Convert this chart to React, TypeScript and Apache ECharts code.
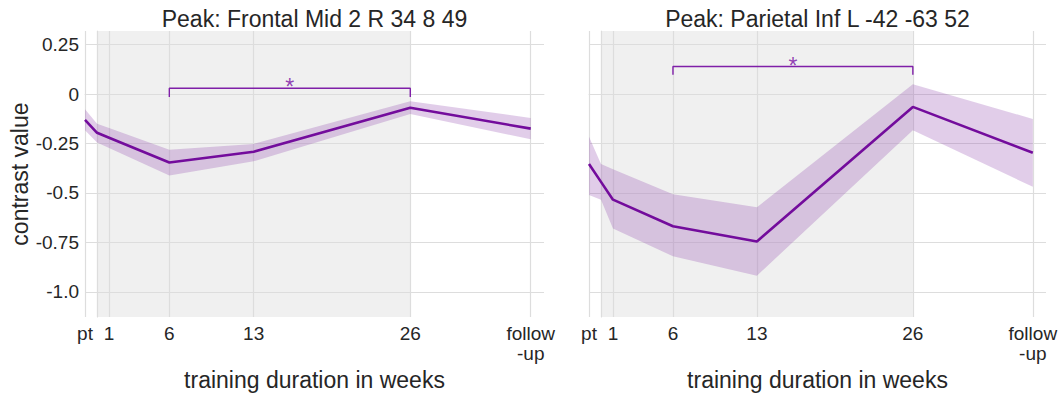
import React, { useEffect, useRef } from "react";
import * as echarts from "echarts";

const weeks = [-1, 0, 1, 6, 13, 26, 36];

const frontalMean = [-0.131, -0.196, -0.221, -0.346, -0.292, -0.069, -0.175];
const frontalUpper = [-0.077, -0.15, -0.172, -0.281, -0.252, -0.036, -0.121];
const frontalLower = [-0.183, -0.245, -0.273, -0.412, -0.34, -0.101, -0.229];

const parietalMean = [-0.354, -0.444, -0.534, -0.668, -0.745, -0.065, -0.297];
const parietalUpper = [-0.216, -0.354, -0.38, -0.507, -0.572, 0.049, -0.126];
const parietalLower = [-0.51, -0.534, -0.68, -0.82, -0.918, -0.183, -0.469];

const panelTitles = ["Peak: Frontal Mid 2 R 34 8 49", "Peak: Parietal Inf L -42 -63 52"];

const xTicks = [-1, 0, 1, 6, 13, 26, 36];
const xTickLabels = ["pt", "", "1", "6", "13", "26", "follow\n-up"];
const yTicks = [-1, -0.75, -0.5, -0.25, 0, 0.25];
const yTickLabels = ["-1.0", "-0.75", "-0.5", "-0.25", "0", "0.25"];

const trainingSpan = [0, 26];
const bracketFrom = [6, 6];
const bracketTo = [26, 26];
const bracketLevel = [0.029, 0.139];
const bracketDrop = [-0.015, 0.098];
const bracketMark = ["*", "*"];

const xMin = -1;
const xMax = 37.1;
const yMin = -1.1275;
const yMax = 0.3186;

const FONT = "'Liberation Sans', Arial, Helvetica, sans-serif";
const TEXT = "#262626";
const LINE = "#730c9c";
const BAND = "rgba(140, 60, 170, 0.26)";
const GRIDC = "#dddddd";

const grids = [
  { left: 85, top: 31, width: 459, height: 295 },
  { left: 589, top: 31, width: 457, height: 295 },
];

export default function App() {
  const ref = useRef<HTMLDivElement>(null);

  useEffect(() => {
    if (!ref.current) return;
    const chart = echarts.init(ref.current, undefined, { renderer: "svg" });
    const panels = [
      { mean: frontalMean, upper: frontalUpper, lower: frontalLower },
      { mean: parietalMean, upper: parietalUpper, lower: parietalLower },
    ];

    const xAxes: any[] = [];
    const yAxes: any[] = [];
    const series: any[] = [];

    panels.forEach((p, i) => {
      xAxes.push({
        type: "value",
        gridIndex: i,
        min: xMin,
        max: xMax,
        axisLine: { show: true, lineStyle: { color: "#e4e4e4", width: 1.2 } },
        axisTick: { show: false },
        splitLine: { show: false },
        axisLabel: {
          customValues: xTicks,
          formatter: (v: number) => {
            const k = xTicks.indexOf(v);
            return k >= 0 ? xTickLabels[k] : "";
          },
          fontSize: 19,
          fontFamily: FONT,
          color: TEXT,
          margin: 6,
          lineHeight: 20,
          hideOverlap: false,
        },
        name: "training duration in weeks",
        nameLocation: "middle",
        nameGap: 50,
        nameTextStyle: { fontSize: 23, fontFamily: FONT, color: TEXT },
      });
      yAxes.push({
        type: "value",
        gridIndex: i,
        min: yMin,
        max: yMax,
        axisLine: { show: true, lineStyle: { color: "#e4e4e4", width: 1.2 } },
        axisTick: { show: false },
        splitLine: { show: false },
        axisLabel: {
          show: i === 0,
          customValues: yTicks,
          formatter: (v: number) => {
            const k = yTicks.indexOf(v);
            return k >= 0 ? yTickLabels[k] : "";
          },
          fontSize: 19,
          fontFamily: FONT,
          color: TEXT,
          margin: 6,
        },
        name: i === 0 ? "contrast value" : "",
        nameLocation: "middle",
        nameGap: 54,
        nameTextStyle: { fontSize: 23, fontFamily: FONT, color: TEXT },
      });

      // training-period shading
      series.push({
        type: "line",
        xAxisIndex: i,
        yAxisIndex: i,
        data: [],
        silent: true,
        z: 1,
        markArea: {
          silent: true,
          z: 1,
          itemStyle: { color: "#f0f0f0" },
          data: [[{ xAxis: trainingSpan[0] }, { xAxis: trainingSpan[1] }]],
        },
      });
      // grid lines
      series.push({
        type: "line",
        xAxisIndex: i,
        yAxisIndex: i,
        data: [],
        silent: true,
        z: 2,
        markLine: {
          silent: true,
          z: 2,
          symbol: ["none", "none"],
          label: { show: false },
          lineStyle: { color: GRIDC, type: "solid", width: 1.2 },
          data: [
            ...xTicks.map((v) => ({ xAxis: v })),
            ...yTicks.map((v) => ({ yAxis: v })),
          ],
        },
      });
      // confidence band as one polygon
      const bandData = weeks.map((w, k) => [w, p.lower[k], p.upper[k]]);
      series.push({
        type: "custom",
        xAxisIndex: i,
        yAxisIndex: i,
        data: bandData,
        encode: { x: 0, y: [1, 2] },
        silent: true,
        z: 3,
        renderItem: (params: any, api: any) => {
          if (params.dataIndex !== 0) return null;
          const top = bandData.map((d) => api.coord([d[0], d[2]]));
          const bottom = bandData
            .slice()
            .reverse()
            .map((d) => api.coord([d[0], d[1]]));
          return {
            type: "polygon",
            shape: { points: top.concat(bottom) },
            style: { fill: BAND },
            silent: true,
          };
        },
      });
      // mean line
      series.push({
        type: "line",
        xAxisIndex: i,
        yAxisIndex: i,
        data: weeks.map((w, k) => [w, p.mean[k]]),
        symbol: "none",
        lineStyle: { color: LINE, width: 2.6 },
        silent: true,
        z: 4,
      });
      // significance bracket
      series.push({
        type: "line",
        xAxisIndex: i,
        yAxisIndex: i,
        data: [
          [bracketFrom[i], bracketDrop[i]],
          [bracketFrom[i], bracketLevel[i]],
          [bracketTo[i], bracketLevel[i]],
          [bracketTo[i], bracketDrop[i]],
        ],
        symbol: "none",
        lineStyle: { color: "#7f1fa8", width: 1.4 },
        silent: true,
        z: 5,
      });
      series.push({
        type: "scatter",
        xAxisIndex: i,
        yAxisIndex: i,
        data: [[(bracketFrom[i] + bracketTo[i]) / 2, bracketLevel[i]]],
        symbolSize: 0,
        silent: true,
        z: 5,
        label: {
          show: true,
          position: "inside",
          offset: [0, -1],
          formatter: () => bracketMark[i],
          fontSize: 23,
          fontFamily: FONT,
          color: "#7a12a4",
        },
      });
    });

    chart.setOption({
      animation: false,
      backgroundColor: "#ffffff",
      grid: grids.map((g) => ({ ...g, show: false })),
      xAxis: xAxes,
      yAxis: yAxes,
      series,
      graphic: grids.map((g, i) => ({
        type: "text",
        x: g.left + g.width / 2,
        y: 18.5,
        style: {
          text: panelTitles[i],
          fontSize: 23,
          fontFamily: FONT,
          fill: TEXT,
          align: "center",
          verticalAlign: "middle",
        },
      })),
    });
    return () => chart.dispose();
  }, []);

  return (
    <div
      ref={ref}
      style={{ position: "fixed", left: 0, top: 0, width: 1062, height: 396 }}
    />
  );
}
